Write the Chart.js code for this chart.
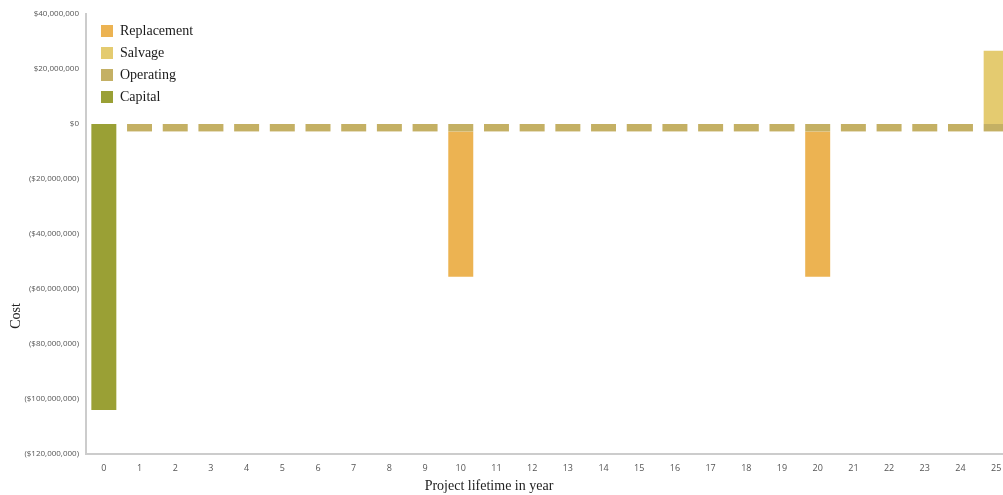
<!DOCTYPE html>
<html>
<head>
<meta charset="utf-8">
<script src="https://cdn.jsdelivr.net/npm/chart.js@4/dist/chart.umd.min.js"></script>
<style>
  html, body { margin: 0; padding: 0; background: #ffffff; overflow: hidden; }
  #wrap { position: relative; width: 1016px; height: 495px; }
</style>
</head>
<body>
<div id="wrap"><canvas id="c" width="1016" height="495"></canvas></div>
<script>
// Project years on the x axis
const years = ['0','1','2','3','4','5','6','7','8','9','10','11','12','13','14','15','16','17','18','19','20','21','22','23','24','25'];

// Cash flows per year (USD); costs are negative, salvage is positive
const capital     = [-104000000,0,0,0,0,0,0,0,0,0,0,0,0,0,0,0,0,0,0,0,0,0,0,0,0,0];
const operating   = [0,-2700000,-2700000,-2700000,-2700000,-2700000,-2700000,-2700000,-2700000,-2700000,-2700000,-2700000,-2700000,-2700000,-2700000,-2700000,-2700000,-2700000,-2700000,-2700000,-2700000,-2700000,-2700000,-2700000,-2700000,-2700000];
const replacement = [0,0,0,0,0,0,0,0,0,0,-52800000,0,0,0,0,0,0,0,0,0,-52800000,0,0,0,0,0];
const salvage     = [0,0,0,0,0,0,0,0,0,0,0,0,0,0,0,0,0,0,0,0,0,0,0,0,0,26600000];

// Y axis range and step
const yMin = -120000000;
const yMax = 40000000;
const yStep = 20000000;

const legendOrder = ['Replacement', 'Salvage', 'Operating', 'Capital'];

function money(v) {
  const s = '$' + Math.abs(v).toLocaleString('en-US');
  return v < 0 ? '(' + s + ')' : s;
}

// Axis titles drawn in a serif face beside the plot
const axisTitles = {
  id: 'axisTitles',
  afterDraw(chart) {
    const ctx = chart.ctx;
    ctx.save();
    ctx.fillStyle = '#222222';
    ctx.font = '14px "Liberation Serif", "DejaVu Serif", serif';
    ctx.textAlign = 'center';
    ctx.textBaseline = 'middle';
    ctx.fillText('Project lifetime in year', 489, 486);
    ctx.translate(16, 316);
    ctx.rotate(-Math.PI / 2);
    ctx.fillText('Cost', 0, 0);
    ctx.restore();
  }
};

// Nudge the in-plot legend away from the axis line and the top edge
const legendNudge = {
  id: 'legendNudge',
  afterLayout(chart) {
    const lg = chart.legend;
    if (lg) {
      lg.left += 7;
      lg.right += 7;
      lg.top += 16;
      lg.bottom += 16;
    }
  }
};

new Chart(document.getElementById('c'), {
  type: 'bar',
  data: {
    labels: years,
    datasets: [
      { label: 'Capital', data: capital, backgroundColor: '#9aa035', borderWidth: 0 },
      { label: 'Operating', data: operating, backgroundColor: '#c4b064', borderWidth: 0 },
      { label: 'Replacement', data: replacement, backgroundColor: '#ecb352', borderWidth: 0 },
      { label: 'Salvage', data: salvage, backgroundColor: '#e4cb70', borderWidth: 0 }
    ]
  },
  options: {
    responsive: false,
    animation: false,
    devicePixelRatio: 1,
    layout: { padding: { top: 14, right: 2, left: 0, bottom: 0 } },
    datasets: { bar: { categoryPercentage: 1.0, barPercentage: 0.7 } },
    plugins: {
      tooltip: { enabled: false },
      legend: {
        position: 'chartArea',
        align: 'start',
        labels: {
          boxWidth: 12,
          boxHeight: 12,
          padding: 8,
          color: '#1a1a1a',
          font: { family: '"Liberation Serif", "DejaVu Serif", serif', size: 14 },
          sort: (a, b) => legendOrder.indexOf(a.text) - legendOrder.indexOf(b.text),
          generateLabels(chart) {
            return chart.data.datasets.map((ds, i) => ({
              text: ds.label,
              fillStyle: ds.backgroundColor,
              strokeStyle: ds.backgroundColor,
              lineWidth: 0,
              fontColor: '#1a1a1a',
              hidden: false,
              datasetIndex: i
            }));
          }
        }
      }
    },
    scales: {
      x: {
        stacked: true,
        grid: { display: false, drawTicks: true, tickLength: 5, color: '#bbbbbb' },
        border: { color: '#cccccc', width: 2 },
        ticks: { color: '#555555', font: { family: '"Open Sans", sans-serif', size: 9 }, padding: 4, maxRotation: 0, autoSkip: false },
        afterFit(s) { s.height = 41; }
      },
      y: {
        stacked: true,
        min: yMin,
        max: yMax,
        grid: { display: false, drawTicks: true, tickLength: 5 },
        border: { color: '#cccccc', width: 2 },
        ticks: {
          stepSize: yStep,
          color: '#555555',
          font: { family: '"Open Sans", sans-serif', size: 8 },
          padding: 2,
          callback: v => money(v)
        },
        afterFit(s) { s.width = 86; }
      }
    }
  },
  plugins: [axisTitles, legendNudge]
});
</script>
</body>
</html>
